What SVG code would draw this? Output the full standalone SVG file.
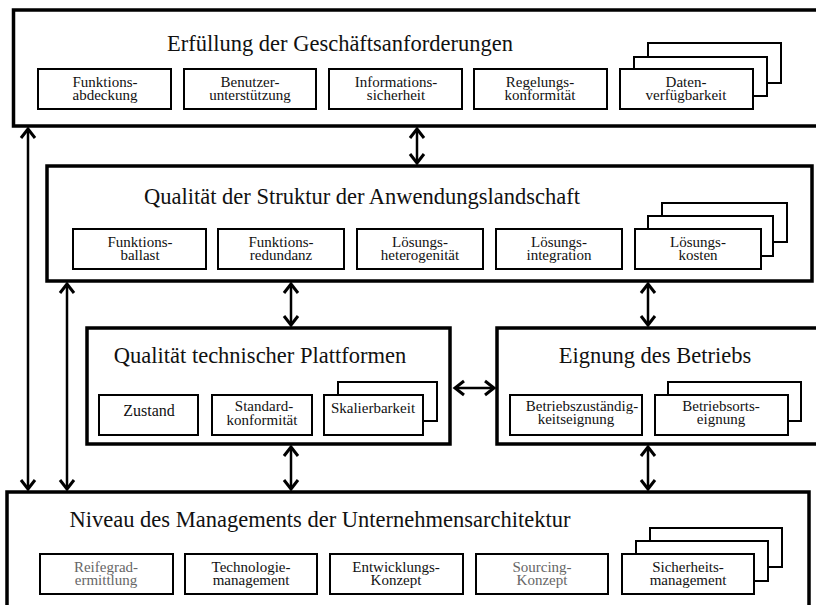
<svg xmlns="http://www.w3.org/2000/svg" width="816" height="605" viewBox="0 0 816 605">
<style>
.outer{fill:#fff;stroke:#000;stroke-width:3.5}
.sub{fill:#fff;stroke:#000;stroke-width:2}
.title{font-size:22.5px;fill:#111;text-anchor:middle}
.lbl{font-size:15px;fill:#111;text-anchor:middle}
.g{fill:#666}
.conn{stroke:#000;stroke-width:2.5;fill:none}
</style>
<defs>
<marker id="ah" markerUnits="userSpaceOnUse" markerWidth="20" markerHeight="20" viewBox="-12 -10 14 20" refX="0" refY="0" orient="auto-start-reverse">
<path d="M-9,-7 L0,0 L-9,7" fill="none" stroke="#000" stroke-width="3"/>
</marker>
</defs>
<rect width="816" height="605" fill="#fff"/>

<g id="n-geschaeft" font-family="'Liberation Serif', 'Times New Roman', 'DejaVu Serif', serif">
<rect class="outer" x="13.5" y="10" width="805" height="116"/>
<text class="title" x="340" y="51">Erfüllung der Geschäftsanforderungen</text>
<rect class="sub" x="38" y="69" width="133" height="40"/>
<text class="lbl" x="105" y="87">Funktions-</text>
<text class="lbl" x="105" y="100">abdeckung</text>
<rect class="sub" x="184" y="69" width="132" height="40"/>
<text class="lbl" x="250" y="87">Benutzer-</text>
<text class="lbl" x="250" y="100">unterstützung</text>
<rect class="sub" x="329" y="69" width="133" height="40"/>
<text class="lbl" x="396" y="87">Informations-</text>
<text class="lbl" x="396" y="100">sicherheit</text>
<rect class="sub" x="474" y="69" width="133" height="40"/>
<text class="lbl" x="540" y="87">Regelungs-</text>
<text class="lbl" x="540" y="100">konformität</text>
<rect class="sub" x="648" y="43" width="133" height="40"/>
<rect class="sub" x="634" y="57" width="133" height="39"/>
<rect class="sub" x="620" y="69" width="133" height="40"/>
<text class="lbl" x="686" y="87">Daten-</text>
<text class="lbl" x="686" y="100">verfügbarkeit</text>
</g>

<g id="n-struktur" font-family="'Liberation Serif', 'Times New Roman', 'DejaVu Serif', serif">
<rect class="outer" x="47" y="166" width="765" height="115"/>
<text class="title" x="362" y="204">Qualität der Struktur der Anwendungslandschaft</text>
<rect class="sub" x="73" y="229" width="133" height="40"/>
<text class="lbl" x="140" y="247">Funktions-</text>
<text class="lbl" x="140" y="260">ballast</text>
<rect class="sub" x="218" y="229" width="126" height="40"/>
<text class="lbl" x="281" y="247">Funktions-</text>
<text class="lbl" x="281" y="260">redundanz</text>
<rect class="sub" x="357" y="229" width="126" height="40"/>
<text class="lbl" x="420" y="247">Lösungs-</text>
<text class="lbl" x="420" y="260">heterogenität</text>
<rect class="sub" x="496" y="229" width="126" height="40"/>
<text class="lbl" x="559" y="247">Lösungs-</text>
<text class="lbl" x="559" y="260">integration</text>
<rect class="sub" x="662" y="203" width="125" height="39"/>
<rect class="sub" x="648" y="216" width="125" height="40"/>
<rect class="sub" x="635" y="229" width="126" height="40"/>
<text class="lbl" x="698" y="247">Lösungs-</text>
<text class="lbl" x="698" y="260">kosten</text>
</g>

<g id="n-plattform" font-family="'Liberation Serif', 'Times New Roman', 'DejaVu Serif', serif">
<rect class="outer" x="87" y="328" width="363" height="116"/>
<text class="title" x="260" y="363">Qualität technischer Plattformen</text>
<rect class="sub" x="99" y="395" width="99" height="40"/>
<text class="lbl" x="149" y="416" style="font-size:16px">Zustand</text>
<rect class="sub" x="212" y="395" width="100" height="40"/>
<text class="lbl" x="264" y="411">Standard-</text>
<text class="lbl" x="262" y="425">konformität</text>
<rect class="sub" x="338" y="382" width="99" height="39"/>
<rect class="sub" x="324" y="395" width="99" height="40"/>
<text class="lbl" x="373" y="413">Skalierbarkeit</text>
</g>

<g id="n-betrieb" font-family="'Liberation Serif', 'Times New Roman', 'DejaVu Serif', serif">
<rect class="outer" x="497" y="328" width="321" height="116"/>
<text class="title" x="655" y="363">Eignung des Betriebs</text>
<rect class="sub" x="510" y="395" width="132" height="40"/>
<text class="lbl" x="582" y="411">Betriebszuständig-</text>
<text class="lbl" x="576" y="424">keitseignung</text>
<rect class="sub" x="668" y="382" width="133" height="39"/>
<rect class="sub" x="655" y="395" width="133" height="40"/>
<text class="lbl" x="721" y="411">Betriebsorts-</text>
<text class="lbl" x="721" y="424">eignung</text>
</g>

<g id="n-management" font-family="'Liberation Serif', 'Times New Roman', 'DejaVu Serif', serif">
<rect class="outer" x="7" y="492" width="802" height="120"/>
<text class="title" x="320" y="527">Niveau des Managements der Unternehmensarchitektur</text>
<rect class="sub" x="40" y="554" width="133" height="40"/>
<text class="lbl g" x="106" y="572">Reifegrad-</text>
<text class="lbl g" x="106" y="585">ermittlung</text>
<rect class="sub" x="185" y="554" width="132" height="40"/>
<text class="lbl" x="251" y="572">Technologie-</text>
<text class="lbl" x="251" y="585">management</text>
<rect class="sub" x="330" y="554" width="133" height="40"/>
<text class="lbl" x="396" y="572">Entwicklungs-</text>
<text class="lbl" x="396" y="585">Konzept</text>
<rect class="sub" x="476" y="554" width="132" height="40"/>
<text class="lbl g" x="542" y="572">Sourcing-</text>
<text class="lbl g" x="542" y="585">Konzept</text>
<rect class="sub" x="650" y="528" width="132" height="39"/>
<rect class="sub" x="636" y="541" width="132" height="40"/>
<rect class="sub" x="622" y="554" width="132" height="40"/>
<text class="lbl" x="688" y="572">Sicherheits-</text>
<text class="lbl" x="688" y="585">management</text>
</g>

<g id="connectors">
<line class="conn" x1="417" y1="129" x2="417" y2="163" marker-start="url(#ah)" marker-end="url(#ah)"/>
<line class="conn" x1="28" y1="129" x2="28" y2="489" marker-start="url(#ah)" marker-end="url(#ah)"/>
<line class="conn" x1="67" y1="284" x2="67" y2="489" marker-start="url(#ah)" marker-end="url(#ah)"/>
<line class="conn" x1="291" y1="284" x2="291" y2="325" marker-start="url(#ah)" marker-end="url(#ah)"/>
<line class="conn" x1="648" y1="284" x2="648" y2="325" marker-start="url(#ah)" marker-end="url(#ah)"/>
<line class="conn" x1="455" y1="388" x2="494" y2="388" marker-start="url(#ah)" marker-end="url(#ah)"/>
<line class="conn" x1="291" y1="447" x2="291" y2="489" marker-start="url(#ah)" marker-end="url(#ah)"/>
<line class="conn" x1="648" y1="447" x2="648" y2="489" marker-start="url(#ah)" marker-end="url(#ah)"/>
</g>
</svg>
